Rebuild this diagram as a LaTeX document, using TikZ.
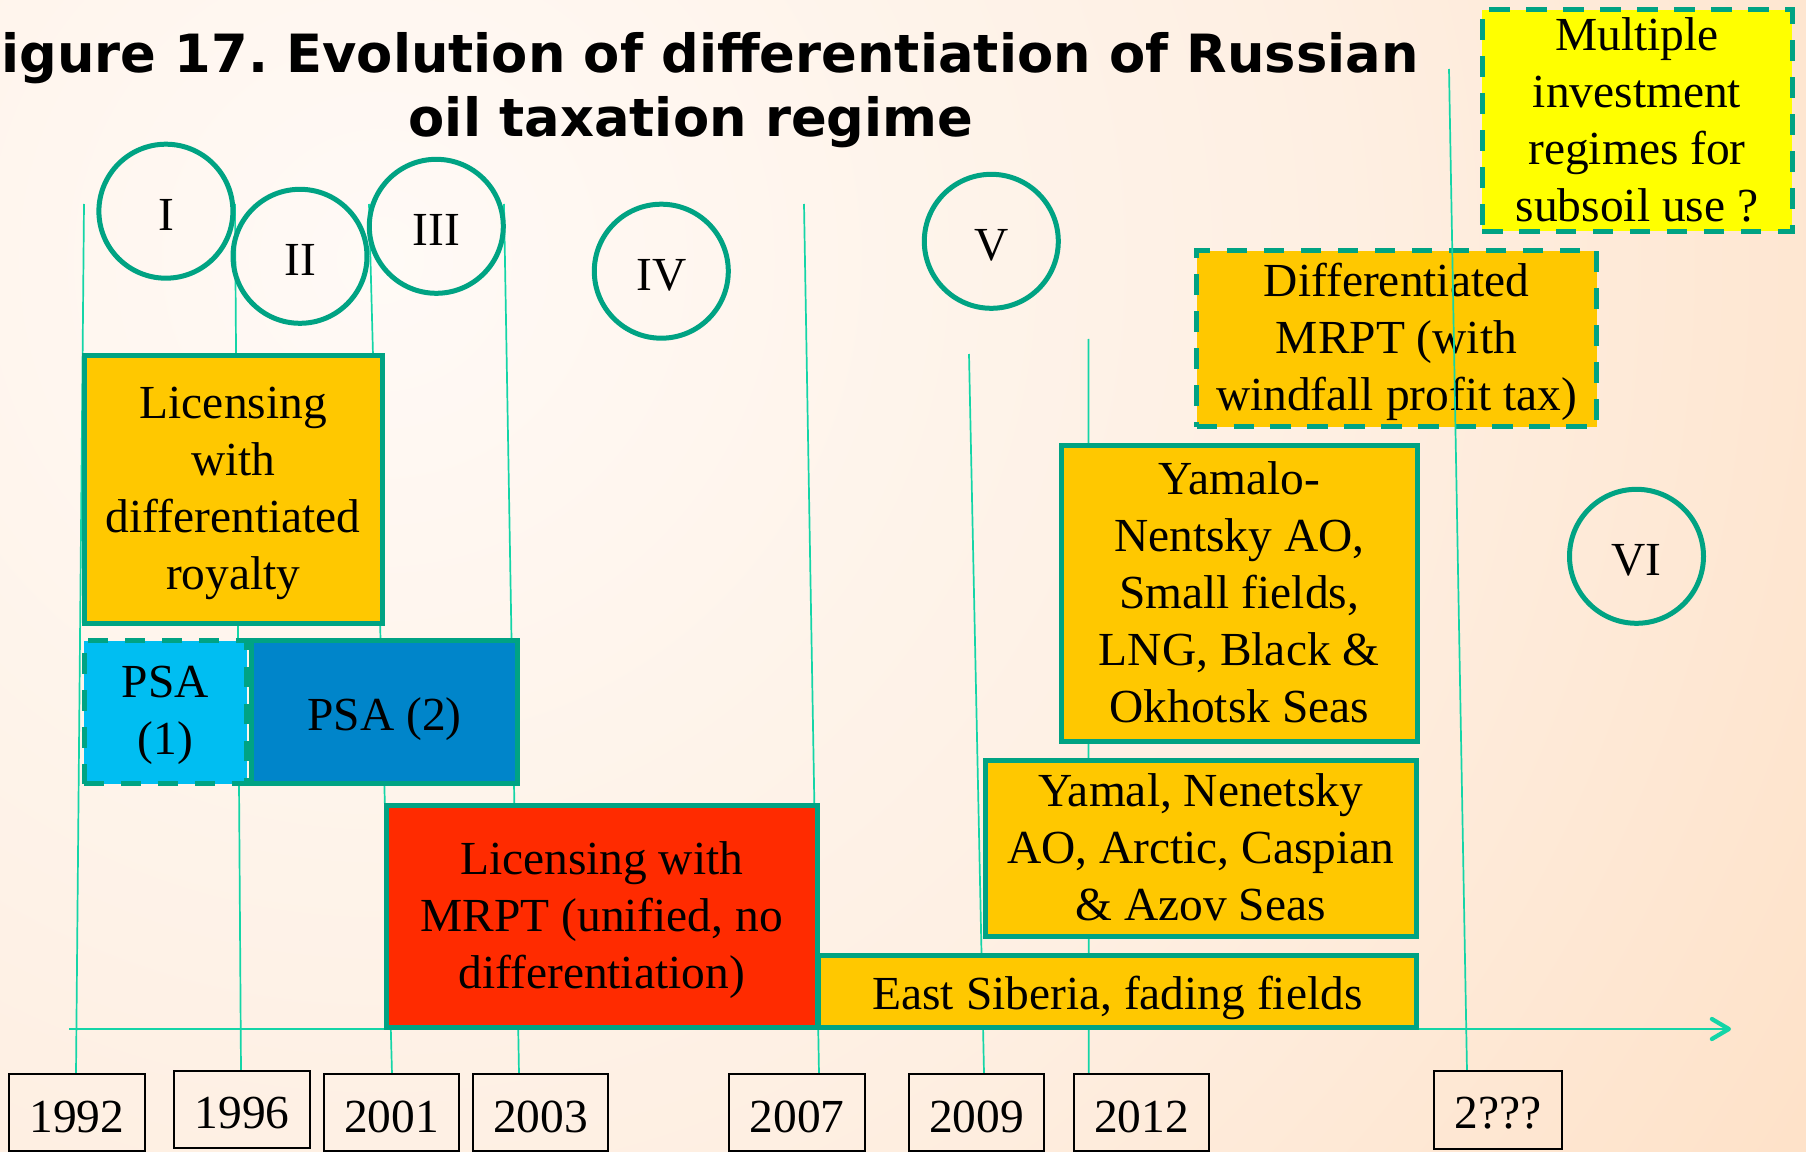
\documentclass[tikz,border=0pt]{standalone}
\usepackage{fontspec}
\setmainfont{Liberation Serif}
\newfontfamily\headfont{DejaVu Sans}
\usetikzlibrary{arrows.meta}
\frenchspacing

% palette
\definecolor{bgA}{HTML}{FFFAF6}
\definecolor{bgB}{HTML}{FEEFE2}
\definecolor{bgC}{HTML}{FEE1C7}
\definecolor{bgD}{HTML}{FCD2AC}
\definecolor{bgE}{HTML}{F8C49A}
\definecolor{edge}{HTML}{00A383}
\definecolor{guide}{HTML}{14D5A7}
\definecolor{gold}{HTML}{FFC800}
\definecolor{hotred}{HTML}{FF2B00}
\definecolor{skyblue}{HTML}{00BEF2}
\definecolor{deepblue}{HTML}{0085CA}
\definecolor{lemon}{HTML}{FFFF00}

\pgfdeclareradialshading{bgglow}{\pgfpoint{0bp}{0bp}}{%
  color(0bp)=(bgA); color(14bp)=(bgB); color(25bp)=(bgC);
  color(38bp)=(bgD); color(50bp)=(bgE)}

\begin{document}
\begin{tikzpicture}[x=0.02cm, y=-0.02cm,
  sz/.style 2 args={minimum width=#1*0.02cm, minimum height=#2*0.02cm},
  panel/.style={rectangle, draw=edge, line width=0.1cm, inner sep=0pt},
  dashpanel/.style={panel, dash pattern=on 0.41cm off 0.33cm},
  boxtext/.style={align=center, inner sep=0pt,
    font=\fontsize{27}{32.4}\selectfont,
    execute at begin node=\strut, execute at end node=\strut,
    yshift=-0.14cm},
  ring/.style={circle, draw=edge, line width=0.1cm, inner sep=0pt,
    minimum size=134*0.02cm, font=\fontsize{27}{32.4}\selectfont,
    text height=21.6pt, text depth=0pt},
  yearbox/.style={rectangle, draw=black, line width=0.026cm, inner sep=0pt},
  yeartext/.style={anchor=base, inner sep=0pt, font=\fontsize{27}{32.4}\selectfont},
  guideline/.style={draw=guide, line width=0.034cm},
  timeaxis/.style={draw=guide, line width=0.045cm,
    -{Straight Barb[length=0.34cm, width=0.40cm, line width=0.085cm, round]}},
  heading/.style={inner sep=0pt, font=\headfont\bfseries\fontsize{30}{36}\selectfont}
]
\useasboundingbox (0,0) rectangle (1806,1152);

% background glow
\fill[bgE] (0,0) rectangle (1806,1152);
\begin{scope}
  \clip (0,0) rectangle (1806,1152);
  \shade[shading=bgglow] (380,260) circle[radius=1720];
\end{scope}

% title
\node[heading, anchor=base east] (title1) at (1419,73)
  {Figure 17. Evolution of differentiation of Russian};
\node[heading, anchor=base] (title2) at (691,136.5) {oil taxation regime};

% dashed outlook boxes (the 2??? guide runs over them)
\node[dashpanel, fill=lemon, sz={310}{221.5}] (multi) at (1637,120.75) {};
\node[boxtext] (multit) at (multi.center)
  {Multiple\\investment\\regimes for\\subsoil use ?};
\node[dashpanel, fill=gold, sz={400}{175.5}] (dmrpt) at (1396.5,338.75) {};
\node[boxtext] (dmrptt) at (dmrpt.center)
  {Differentiated\\MRPT (with\\windfall profit tax)};

% guide lines from each year
\coordinate (g1top) at (84,204);    \coordinate (g1bot) at (76,1074);
\coordinate (g2top) at (235,204);   \coordinate (g2bot) at (241,1071);
\coordinate (g3top) at (369,204);   \coordinate (g3bot) at (392,1074);
\coordinate (g4top) at (504,204);   \coordinate (g4bot) at (519,1074);
\coordinate (g5top) at (804,204);   \coordinate (g5bot) at (819,1074);
\coordinate (g6top) at (969,354);   \coordinate (g6bot) at (984,1073);
\coordinate (g7top) at (1088.4,339); \coordinate (g7bot) at (1088.7,1073);
\coordinate (g8top) at (1449,69);   \coordinate (g8bot) at (1467,1071);
\foreach \g in {1,...,8} \draw[guideline] (g\g top) -- (g\g bot);

% time axis
\coordinate (axstart) at (69,1029);
\coordinate (axend) at (1731,1029);
\draw[timeaxis] (axstart) -- (axend);

% period rings
\node[ring] (p1) at (165.9,211.2) {I};
\node[ring] (p2) at (300,256.3) {II};
\node[ring] (p3) at (436.3,226.3) {III};
\node[ring] (p4) at (661.3,271.2) {IV};
\node[ring] (p5) at (991.3,241.3) {V};
\node[ring] (p6) at (1636.5,556.3) {VI};

% regimes
\node[panel, fill=gold, sz={298.5}{268}] (roy) at (233.25,489.5) {};
\node[boxtext] (royt) at (roy.center) {Licensing\\with\\differentiated\\royalty};

\node[panel, fill=deepblue, sz={266}{143}] (psa2) at (384.5,712) {};
\node[boxtext] (psa2t) at (psa2.center) {PSA (2)};
\node[dashpanel, fill=skyblue, sz={162.5}{143}] (psa1) at (165.25,712) {};
\node[boxtext] (psa1t) at (psa1.center) {PSA\\(1)};

\node[panel, fill=gold, sz={598}{72}] (esib) at (1117.5,991.5) {};
\node[boxtext] (esibt) at (esib.center) {East Siberia, fading fields};
\node[panel, fill=hotred, sz={431.3}{221.5}] (mrpt) at (601.65,916.25) {};
\node[boxtext] (mrptt) at (mrpt.center) {Licensing with\\MRPT (unified, no\\differentiation)};

\node[panel, fill=gold, sz={431.5}{176}] (yamal) at (1200.75,848.5) {};
\node[boxtext] (yamalt) at (yamal.center) {Yamal, Nenetsky\\AO, Arctic, Caspian\\\& Azov Seas};
\node[panel, fill=gold, sz={355.5}{296.5}] (yao) at (1239.25,593.25) {};
\node[boxtext] (yaot) at (yao.center)
  {Yamalo-\\Nentsky AO,\\Small fields,\\LNG, Black \&\\Okhotsk Seas};

% year labels
\node[yearbox, sz={136}{77}] (y1992) at (77,1112.5) {};
\node[yeartext] (y1992t) at (77,1132) {1992};
\node[yearbox, sz={136}{77}] (y1996) at (242,1109.5) {};
\node[yeartext] (y1996t) at (242,1128.5) {1996};
\node[yearbox, sz={135}{77}] (y2001) at (391.5,1112.5) {};
\node[yeartext] (y2001t) at (391.5,1132) {2001};
\node[yearbox, sz={135}{77}] (y2003) at (540.5,1112.5) {};
\node[yeartext] (y2003t) at (540.5,1132) {2003};
\node[yearbox, sz={136}{77}] (y2007) at (797,1112.5) {};
\node[yeartext] (y2007t) at (797,1132) {2007};
\node[yearbox, sz={135}{77}] (y2009) at (976.5,1112.5) {};
\node[yeartext] (y2009t) at (976.5,1132) {2009};
\node[yearbox, sz={135}{77}] (y2012) at (1141.5,1112.5) {};
\node[yeartext] (y2012t) at (1141.5,1132) {2012};
\node[yearbox, sz={128}{78}] (y2xxx) at (1498,1110) {};
\node[yeartext] (y2xxxt) at (1498,1128.5) {2???};
\end{tikzpicture}
\end{document}
